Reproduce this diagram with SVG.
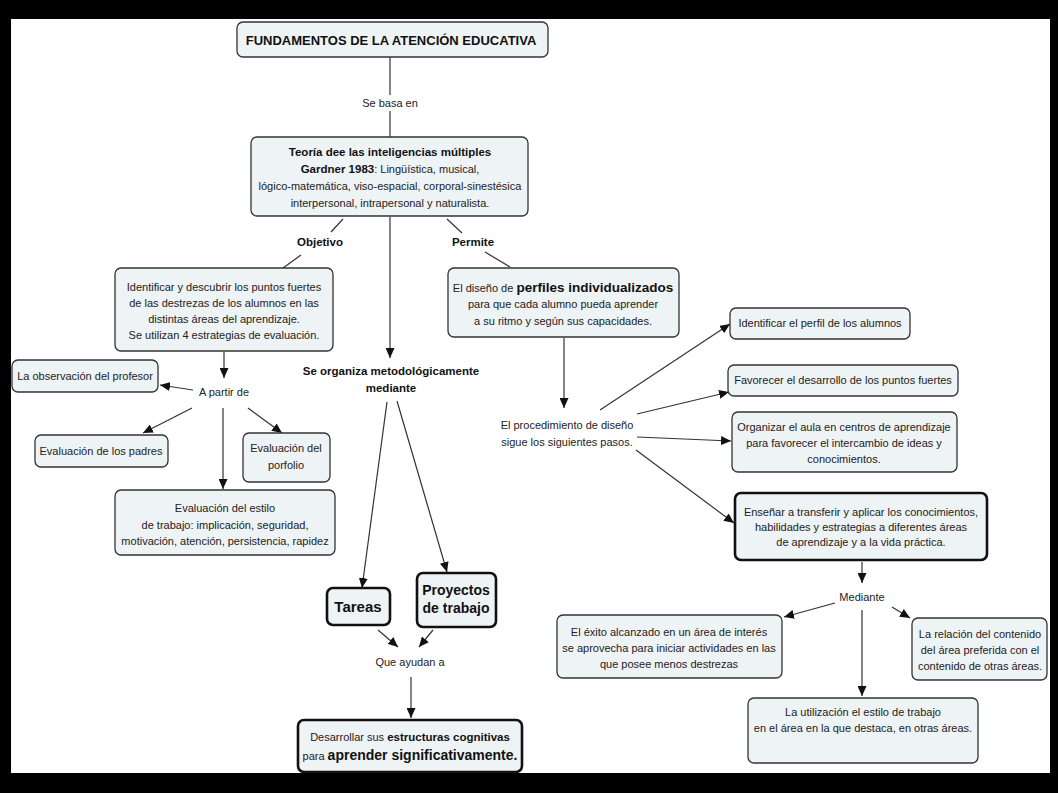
<svg xmlns="http://www.w3.org/2000/svg" width="1058" height="793" viewBox="0 0 1058 793">
<defs>
<marker id="ah" markerUnits="userSpaceOnUse" markerWidth="11" markerHeight="9" refX="10" refY="4.5" orient="auto">
<path d="M0,0 L10,4.5 L0,9 z" fill="#111"/>
</marker>
<style>
.box{fill:#eef3f5;stroke:#333;stroke-width:1.3}
.thick{fill:#eef3f5;stroke:#111;stroke-width:2.6}
.t{font-family:"Liberation Sans",Arial,sans-serif;font-size:11px;fill:#222;text-anchor:middle}
.b{font-weight:bold;font-size:11.5px;fill:#111}
.big{font-size:14px;font-weight:bold;fill:#111}
.lbl{font-family:"Liberation Sans",Arial,sans-serif;font-size:11.5px;font-weight:bold;fill:#111;text-anchor:middle}
.c line{stroke:#333;stroke-width:1.2}
.c .a{marker-end:url(#ah)}
</style>
</defs>
<rect x="0" y="0" width="1058" height="793" fill="#fff"/>
<g id="frame" fill="#000">
<rect x="0" y="0" width="1058" height="19"/>
<rect x="0" y="773" width="1058" height="20"/>
<rect x="0" y="0" width="11" height="793"/>
<rect x="1050" y="0" width="8" height="793"/>
</g>
<g class="c" id="connectors">
<line x1="390" y1="57" x2="390" y2="95"/>
<line x1="390" y1="111" x2="390" y2="137"/>
<line x1="343" y1="219" x2="331" y2="232"/>
<line x1="301" y1="255" x2="283" y2="268"/>
<line x1="447" y1="219" x2="462" y2="233"/>
<line x1="485" y1="252" x2="510" y2="267"/>
<line class="a" x1="390" y1="217" x2="390" y2="358"/>
<line class="a" x1="224" y1="352" x2="224" y2="378"/>
<line class="a" x1="193" y1="390" x2="160" y2="385"/>
<line class="a" x1="192" y1="408" x2="143" y2="433"/>
<line class="a" x1="223" y1="408" x2="223" y2="489"/>
<line class="a" x1="248" y1="408" x2="282" y2="433"/>
<line class="a" x1="387" y1="402" x2="362" y2="588"/>
<line class="a" x1="397" y1="401" x2="447" y2="572"/>
<line class="a" x1="378" y1="630" x2="398" y2="647"/>
<line class="a" x1="433" y1="630" x2="419" y2="647"/>
<line class="a" x1="411" y1="677" x2="411" y2="718"/>
<line class="a" x1="564" y1="338" x2="564" y2="408"/>
<line class="a" x1="600" y1="410" x2="730" y2="324"/>
<line class="a" x1="637" y1="414" x2="729" y2="392"/>
<line class="a" x1="637" y1="437" x2="731" y2="441"/>
<line class="a" x1="636" y1="450" x2="734" y2="523"/>
<line class="a" x1="862" y1="562" x2="862" y2="583"/>
<line class="a" x1="835" y1="603" x2="784" y2="617"/>
<line class="a" x1="892" y1="607" x2="910" y2="618"/>
<line class="a" x1="862" y1="610" x2="862" y2="696"/>
</g>
<g id="labels">
<text class="t" x="390" y="107">Se basa en</text>
<text class="lbl" x="320" y="246">Objetivo</text>
<text class="lbl" x="473" y="246">Permite</text>
<text class="lbl" x="391" y="375">Se organiza metodológicamente</text>
<text class="lbl" x="391" y="392">mediante</text>
<text class="t" x="224" y="396">A partir de</text>
<text class="t" x="567" y="429">El procedimiento de diseño</text>
<text class="t" x="567" y="446">sigue los siguientes pasos.</text>
<text class="t" x="862" y="601">Mediante</text>
<text class="t" x="410" y="666">Que ayudan a</text>
</g>
<g id="n-title">
<rect class="box" x="237" y="22" width="311" height="35" rx="6"/>
<text class="t" x="391" y="45" style="font-size:13px;font-weight:bold;fill:#111">FUNDAMENTOS DE LA ATENCIÓN EDUCATIVA</text>
</g>
<g id="n-teoria">
<rect class="box" x="251" y="137" width="277" height="79" rx="6"/>
<text class="t" x="390" y="156"><tspan class="b">Teoría dee las inteligencias múltiples</tspan></text>
<text class="t" x="390" y="173"><tspan class="b">Gardner 1983</tspan>: Lingüística, musical,</text>
<text class="t" x="390" y="190">lógico-matemática, viso-espacial, corporal-sinestésica</text>
<text class="t" x="390" y="207">interpersonal, intrapersonal y naturalista.</text>
</g>
<g id="n-identificar">
<rect class="box" x="115" y="268" width="218" height="83" rx="6"/>
<text class="t" x="224" y="291">Identificar y descubrir los puntos fuertes</text>
<text class="t" x="224" y="307">de las destrezas de los alumnos en las</text>
<text class="t" x="224" y="323">distintas áreas del aprendizaje.</text>
<text class="t" x="224" y="339">Se utilizan 4 estrategias de evaluación.</text>
</g>
<g id="n-observacion">
<rect class="box" x="12" y="360" width="146" height="32" rx="6"/>
<text class="t" x="85" y="380">La observación del profesor</text>
</g>
<g id="n-padres">
<rect class="box" x="35" y="435" width="133" height="32" rx="6"/>
<text class="t" x="101" y="455">Evaluación de los padres</text>
</g>
<g id="n-porfolio">
<rect class="box" x="243" y="433" width="87" height="49" rx="6"/>
<text class="t" x="286" y="452">Evaluación del</text>
<text class="t" x="286" y="469">porfolio</text>
</g>
<g id="n-estilo">
<rect class="box" x="115" y="490" width="220" height="65" rx="6"/>
<text class="t" x="225" y="512">Evaluación del estilo</text>
<text class="t" x="225" y="529">de trabajo: implicación, seguridad,</text>
<text class="t" x="225" y="545">motivación, atención, persistencia, rapidez</text>
</g>
<g id="n-perfiles">
<rect class="box" x="448" y="268" width="231" height="69" rx="6"/>
<text class="t" x="563" y="292">El diseño de <tspan class="big" style="font-size:13.5px">perfiles individualizados</tspan></text>
<text class="t" x="563" y="308">para que cada alumno pueda aprender</text>
<text class="t" x="563" y="325">a su ritmo y según sus capacidades.</text>
</g>
<g id="n-tareas">
<rect class="thick" x="327" y="588" width="63" height="37" rx="6"/>
<text class="t big" x="358" y="612" style="font-size:15px">Tareas</text>
</g>
<g id="n-proyectos">
<rect class="thick" x="417" y="573" width="79" height="54" rx="6"/>
<text class="t big" x="456" y="595">Proyectos</text>
<text class="t big" x="456" y="613">de trabajo</text>
</g>
<g id="n-desarrollar">
<rect class="thick" x="298" y="720" width="224" height="52" rx="6"/>
<text class="t" x="410" y="741">Desarrollar sus <tspan class="b">estructuras cognitivas</tspan></text>
<text class="t" x="410" y="760">para <tspan class="big">aprender significativamente.</tspan></text>
</g>
<g id="n-idperfil">
<rect class="box" x="730" y="308" width="180" height="31" rx="6"/>
<text class="t" x="820" y="327">Identificar el perfil de los alumnos</text>
</g>
<g id="n-favorecer">
<rect class="box" x="728" y="365" width="230" height="31" rx="6"/>
<text class="t" x="843" y="384">Favorecer el desarrollo de los puntos fuertes</text>
</g>
<g id="n-organizar">
<rect class="box" x="732" y="412" width="225" height="60" rx="6"/>
<text class="t" x="844" y="431">Organizar el aula en centros de aprendizaje</text>
<text class="t" x="844" y="447">para favorecer el intercambio de ideas y</text>
<text class="t" x="844" y="463">conocimientos.</text>
</g>
<g id="n-ensenar">
<rect class="thick" x="735" y="493" width="252" height="67" rx="6"/>
<text class="t" x="861" y="516">Enseñar a transferir y aplicar los conocimientos,</text>
<text class="t" x="861" y="531">habilidades y estrategias a diferentes áreas</text>
<text class="t" x="861" y="546">de aprendizaje y a la vida práctica.</text>
</g>
<g id="n-exito">
<rect class="box" x="557" y="615" width="225" height="63" rx="6"/>
<text class="t" x="669" y="636">El éxito alcanzado en un área de interés</text>
<text class="t" x="669" y="652">se aprovecha para iniciar actividades en las</text>
<text class="t" x="669" y="668">que posee menos destrezas</text>
</g>
<g id="n-relacion">
<rect class="box" x="912" y="618" width="135" height="62" rx="6"/>
<text class="t" x="980" y="638">La relación del contenido</text>
<text class="t" x="980" y="654">del área preferida con el</text>
<text class="t" x="980" y="670">contenido de otras áreas.</text>
</g>
<g id="n-utilizacion">
<rect class="box" x="748" y="698" width="230" height="65" rx="6"/>
<text class="t" x="863" y="716">La utilización el estilo de trabajo</text>
<text class="t" x="863" y="732">en el área en la que destaca, en otras áreas.</text>
</g>
</svg>
